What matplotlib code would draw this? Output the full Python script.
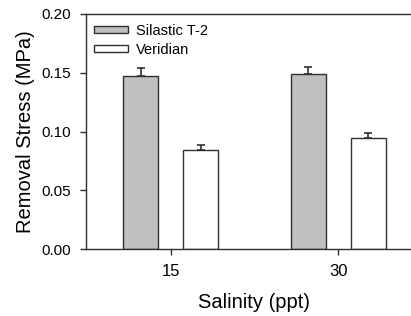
import matplotlib
matplotlib.use("Agg")
import matplotlib.pyplot as plt
import numpy as np

plt.rcParams['font.family'] = ['Liberation Sans', 'DejaVu Sans']

# data
salinity = ['15', '30']
silastic = [0.147, 0.149]
silastic_err = [0.0073, 0.0062]
veridian = [0.0845, 0.0942]
veridian_err = [0.0043, 0.0043]

x = np.arange(len(salinity))
w = 0.21
off = 0.178
edge = '#303030'

fig = plt.figure(figsize=(4.11, 3.16), dpi=100)
ax = fig.add_axes([0.2092, 0.212, 0.82, 0.7437])

ax.bar(x - off, silastic, w, color='#c0c0c0', edgecolor=edge, linewidth=1.0,
       label='Silastic T-2', zorder=2)
ax.bar(x + off, veridian, w, color='white', edgecolor=edge, linewidth=1.0,
       label='Veridian', zorder=2)
ax.errorbar(x - off, silastic, yerr=[np.zeros(2), silastic_err], fmt='none',
            ecolor=edge, elinewidth=1.2, capsize=3, capthick=1.2, zorder=3)
ax.errorbar(x + off, veridian, yerr=[np.zeros(2), veridian_err], fmt='none',
            ecolor=edge, elinewidth=1.2, capsize=3, capthick=1.2, zorder=3)

ax.set_xlim(-0.505, 1.505)
ax.set_ylim(0, 0.20)
ax.set_yticks([0, 0.05, 0.10, 0.15, 0.20])
ax.set_yticklabels(['0.00', '0.05', '0.10', '0.15', '0.20'])
ax.set_xticks(x)
ax.set_xticklabels(salinity)
ax.tick_params(direction='out', length=4, width=1, color=edge)
ax.tick_params(axis='y', labelsize=11, pad=6.5)
ax.tick_params(axis='x', labelsize=12, pad=7)

for s in ['left', 'top', 'bottom']:
    ax.spines[s].set_color(edge)
    ax.spines[s].set_linewidth(1.0)
ax.spines['right'].set_visible(False)

ax.set_xlabel('Salinity (ppt)', fontsize=14.5, labelpad=10)
ax.set_ylabel('Removal Stress (MPa)', fontsize=14.5, labelpad=5)

ax.legend(loc='upper left', bbox_to_anchor=(0.024, 0.958), frameon=False,
          fontsize=10.5, handlelength=2.3, handleheight=0.35, handletextpad=0.57,
          labelspacing=0.35, borderpad=0, borderaxespad=0)

fig.savefig('out.png', dpi=100)
